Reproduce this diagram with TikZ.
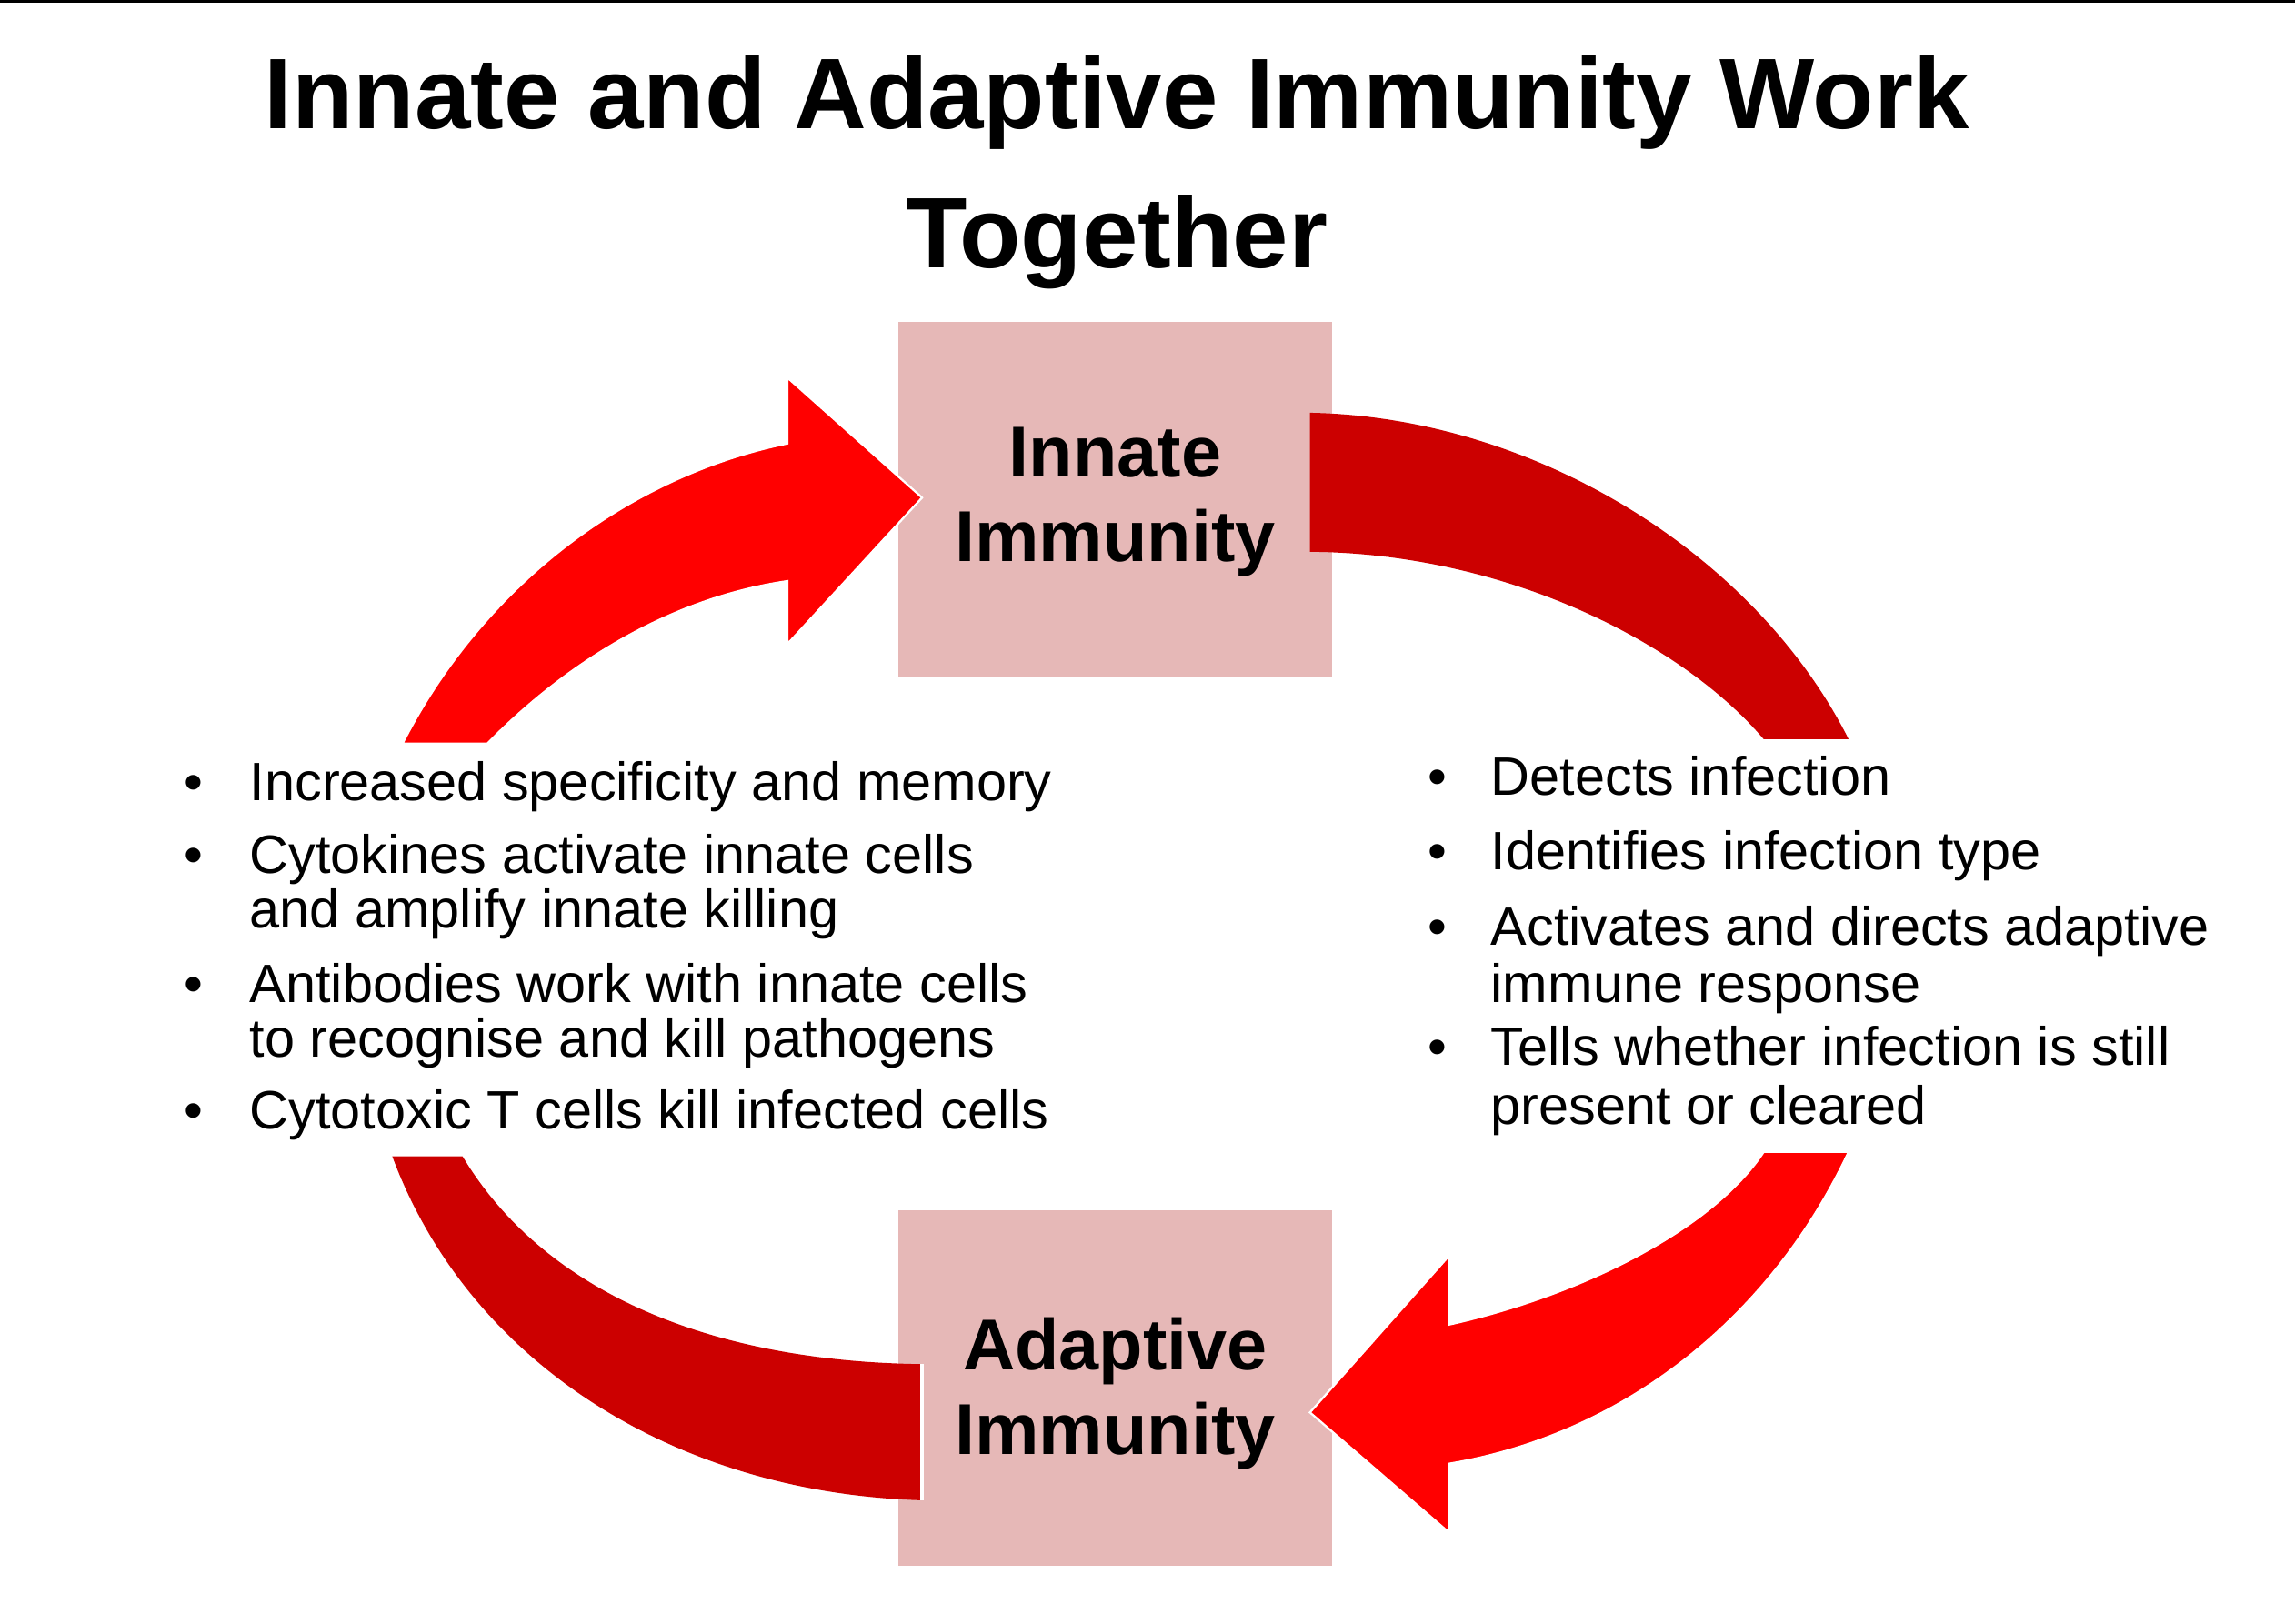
\documentclass[tikz,border=0pt]{standalone}
\usepackage{fontspec}
\setmainfont{Liberation Sans}
\definecolor{boxpink}{RGB}{230,184,183}
\definecolor{brightred}{RGB}{255,0,0}
\definecolor{darkred}{RGB}{204,0,0}
\begin{document}
\begin{tikzpicture}[x=0.01cm,y=-0.01cm,
  box/.style={fill=boxpink,draw=none},
  boxtext/.style={font=\fontsize{14}{16.5}\selectfont\bfseries,align=center},
  bullet/.style={anchor=base west,font=\fontsize{10.5}{12}\selectfont,inner sep=0pt},
  lt/.style={anchor=base west,font=\fontsize{10.5}{12}\selectfont,inner sep=0pt},
  bright/.style={fill=brightred,draw=white,line width=0.4pt},
  dark/.style={fill=darkred,draw=none}]
\useasboundingbox (0,0) rectangle (1568,1109.5);
\fill[white] (0,0) rectangle (1568,1109.5);
\draw[line width=0.6pt] (0,1) -- (1568,1);
\node[font=\fontsize{19.5}{27}\selectfont\bfseries,align=center] (title) at (763,118) {Innate and Adaptive Immunity Work\\Together};
\fill[box] (614,220) rectangle (910,463);
\node[boxtext] (innate) at (762,343) {Innate\\Immunity};
\fill[box] (614,827) rectangle (910,1070);
\node[boxtext] (adaptive) at (762,952) {Adaptive\\Immunity};
% arrows
\path[bright] (275,508) .. controls (330,400) and (430,325) .. (538,303) -- (538,258) -- (630,340) -- (538,440) -- (538,397) .. controls (450,410) and (380,460) .. (333,508) -- cycle;
\path[dark] (895,282) .. controls (1050,285) and (1200,380) .. (1263,505) -- (1205,505) .. controls (1150,440) and (1030,378) .. (895,377) -- cycle;
\path[bright] (1263,787) .. controls (1210,900) and (1110,980) .. (990,1000) -- (990,1047) -- (895,965) -- (990,858) -- (990,905) .. controls (1080,885) and (1170,840) .. (1205,787) -- cycle;
\path[dark] (268,790) .. controls (320,930) and (460,1020) .. (630,1025) -- (630,932) .. controls (480,930) and (370,880) .. (316,790) -- cycle;
\draw[white,line width=0.8pt] (630,932) -- (630,1025);
% left list
\node[bullet] (lb1) at (125,547) {•};
\node[lt] (l1) at (170,547) {Increased specificity and memory};
\node[bullet] (lb2) at (125,597) {•};
\node[lt] (l2) at (170,597) {Cytokines activate innate cells};
\node[lt] (l2b) at (170,634) {and amplify innate killing};
\node[bullet] (lb3) at (125,685) {•};
\node[lt] (l3) at (170,685) {Antibodies work with innate cells};
\node[lt] (l3b) at (170,722) {to recognise and kill pathogens};
\node[bullet] (lb4) at (125,771) {•};
\node[lt] (l4) at (170,771) {Cytotoxic T cells kill infected cells};
% right list
\node[bullet] (rb1) at (975,543) {•};
\node[lt] (r1) at (1018,543) {Detects infection};
\node[bullet] (rb2) at (975,594) {•};
\node[lt] (r2) at (1018,594) {Identifies infection type};
\node[bullet] (rb3) at (975,646) {•};
\node[lt] (r3) at (1018,646) {Activates and directs adaptive};
\node[lt] (r3b) at (1018,685) {immune response};
\node[bullet] (rb4) at (975,728) {•};
\node[lt] (r4) at (1018,728) {Tells whether infection is still};
\node[lt] (r4b) at (1018,768) {present or cleared};
\end{tikzpicture}
\end{document}
